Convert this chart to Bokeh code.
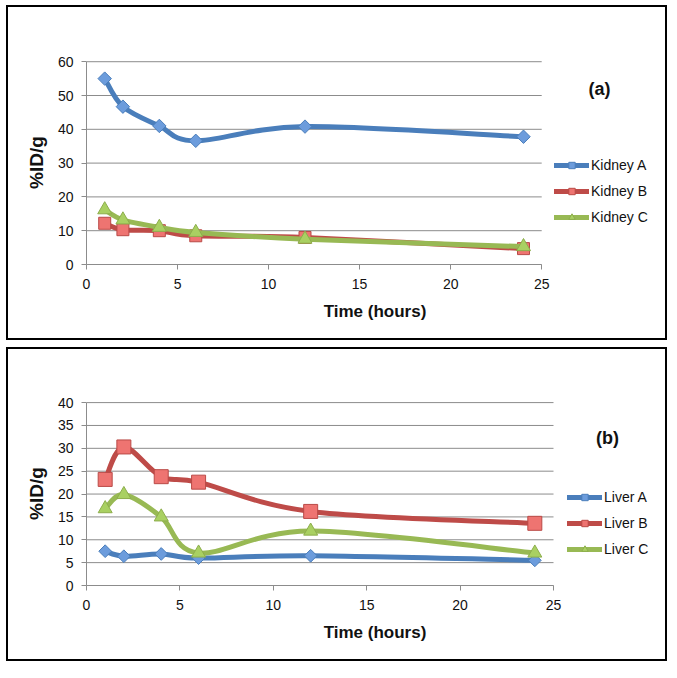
import numpy as np
from bokeh.plotting import figure
from bokeh.models import Range1d, Legend, LegendItem, Label, FixedTicker
from bokeh.layouts import column
from bokeh.embed import file_html
from bokeh.resources import INLINE

# ---------------- data ----------------
hours = [1, 2, 4, 6, 12, 24]

kidney_a = [55.0, 46.7, 41.0, 36.6, 40.8, 37.8]
kidney_b = [12.2, 10.3, 10.0, 8.5, 8.0, 4.7]
kidney_c = [16.2, 13.2, 11.0, 9.5, 7.5, 5.3]

liver_a = [7.5, 6.4, 6.9, 6.0, 6.5, 5.5]
liver_b = [23.2, 30.3, 23.8, 22.6, 16.2, 13.6]
liver_c = [16.8, 19.9, 15.0, 7.1, 11.9, 7.1]

x_ticks = [0, 5, 10, 15, 20, 25]
kidney_y_ticks = [0, 10, 20, 30, 40, 50, 60]
liver_y_ticks = [0, 5, 10, 15, 20, 25, 30, 35, 40]

kidney_labels = ["Kidney A", "Kidney B", "Kidney C"]
liver_labels = ["Liver A", "Liver B", "Liver C"]

FONT = "Liberation Sans"
LINE_COLORS = ["#4A7EBB", "#BE4B48", "#98B954"]
FILL_COLORS = ["#6C9CDC", "#EE7471", "#A9D062"]
EDGE_COLORS = ["#4A7EBB", "#B94A47", "#8DAE4C"]
GRID = "#8C8C8C"


def smooth_segments(xs, ys):
    """Bezier control points (Excel-style smoothed line) from the data points."""
    x = np.asarray(xs, float)
    y = np.asarray(ys, float)
    xp = np.concatenate([[x[0]], x, [x[-1]]])
    yp = np.concatenate([[y[0]], y, [y[-1]]])
    seg = dict(x0=[], y0=[], x1=[], y1=[], cx0=[], cy0=[], cx1=[], cy1=[])
    for i in range(len(x) - 1):
        seg["x0"].append(x[i]); seg["y0"].append(y[i])
        seg["x1"].append(x[i + 1]); seg["y1"].append(y[i + 1])
        seg["cx0"].append(x[i] + (xp[i + 2] - xp[i]) / 6.0)
        seg["cy0"].append(y[i] + (yp[i + 2] - yp[i]) / 6.0)
        seg["cx1"].append(x[i + 1] - (xp[i + 3] - xp[i + 1]) / 6.0)
        seg["cy1"].append(y[i + 1] - (yp[i + 3] - yp[i + 1]) / 6.0)
    return seg


def make_panel(series, labels, yticks, width, height, borders, axis_px,
               legend_loc, tag, tag_pos, sizes):
    left, right, top, bottom = borders
    frame_w = width - left - right
    xmin, xmax = x_ticks[0], x_ticks[-1]
    ymin, ymax = yticks[0], yticks[-1]
    # the frame also holds the legend and tag, so the x range runs past the axis end
    x_end = xmin + (xmax - xmin) * frame_w / axis_px
    y_end = ymax * 1.006

    p = figure(width=width, height=height,
               x_range=Range1d(xmin, x_end), y_range=Range1d(ymin, y_end),
               output_backend="svg", toolbar_location=None,
               min_border_left=left, min_border_right=right,
               min_border_top=top, min_border_bottom=bottom,
               outline_line_color=None,
               background_fill_color="white", border_fill_color="white",
               styles={"border": "2px solid black"})
    p.xgrid.visible = False
    p.ygrid.visible = False
    # horizontal gridlines spanning only the axis extent
    p.segment(x0=xmin, y0=yticks, x1=xmax, y1=yticks,
              line_color=GRID, line_width=1, level="underlay")

    p.xaxis.ticker = FixedTicker(ticks=x_ticks)
    p.yaxis.ticker = FixedTicker(ticks=yticks)
    p.xaxis.bounds = (xmin, xmax)
    p.yaxis.bounds = (ymin, ymax)
    for ax in (p.xaxis[0], p.yaxis[0]):
        ax.axis_line_color = GRID
        ax.major_tick_line_color = GRID
        ax.major_tick_out = 5
        ax.major_tick_in = 0
        ax.minor_tick_line_color = None
        ax.major_label_text_font = FONT
        ax.major_label_text_font_size = "14px"
        ax.major_label_text_color = "#111111"
        ax.axis_label_text_font = FONT
        ax.axis_label_text_font_style = "bold"
        ax.axis_label_text_color = "#111111"
    p.xaxis.axis_label = "Time (hours)"
    p.xaxis.axis_label_text_font_size = "17px"
    p.xaxis.major_label_standoff = 9
    p.xaxis.axis_label_standoff = 10
    p.yaxis.axis_label = "%ID/g"
    p.yaxis.axis_label_text_font_size = "19px"
    p.yaxis.major_label_standoff = 8
    p.yaxis.axis_label_standoff = 8

    markers = ["square", "square", "triangle"]
    angles = [np.pi / 4, 0, 0]
    items = []
    for k, ys in enumerate(series):
        seg = smooth_segments(hours, ys)
        ln = p.bezier(x0=seg["x0"], y0=seg["y0"], x1=seg["x1"], y1=seg["y1"],
                      cx0=seg["cx0"], cy0=seg["cy0"], cx1=seg["cx1"], cy1=seg["cy1"],
                      line_color=LINE_COLORS[k], line_width=5, line_cap="round")
        pts = p.scatter(x=hours, y=ys, marker=markers[k], size=sizes[k],
                        angle=angles[k], fill_color=FILL_COLORS[k],
                        line_color=EDGE_COLORS[k], line_width=1)
        items.append(LegendItem(label=labels[k], renderers=[ln, pts]))

    legend = Legend(items=items, location=legend_loc, glyph_width=35,
                    glyph_height=16, label_height=16, spacing=10, padding=0,
                    margin=0, border_line_color=None, background_fill_alpha=0,
                    label_standoff=2, label_text_font=FONT,
                    label_text_font_size="14px", label_text_color="#111111")
    p.add_layout(legend)

    p.add_layout(Label(x=tag_pos[0], y=tag_pos[1], x_units="screen", y_units="screen",
                       text=tag, text_font=FONT, text_font_size="18px",
                       text_font_style="bold", text_align="center",
                       text_baseline="middle", text_color="#111111"))
    return p


p1 = make_panel([kidney_a, kidney_b, kidney_c], kidney_labels, kidney_y_ticks,
                661, 335, (77, 6, 53, 78), 456, (468, 39), "(a)", (513, 176),
                [9.5, 12, 14])
p2 = make_panel([liver_a, liver_b, liver_c], liver_labels, liver_y_ticks,
                661, 314, (78, 6, 52, 78), 467, (481, 28), "(b)", (521, 148),
                [9, 14, 14])

layout = column(p1, p2, spacing=7, styles={"margin-left": "6px", "margin-top": "5px"})
open("out.html", "w").write(file_html(layout, INLINE))
